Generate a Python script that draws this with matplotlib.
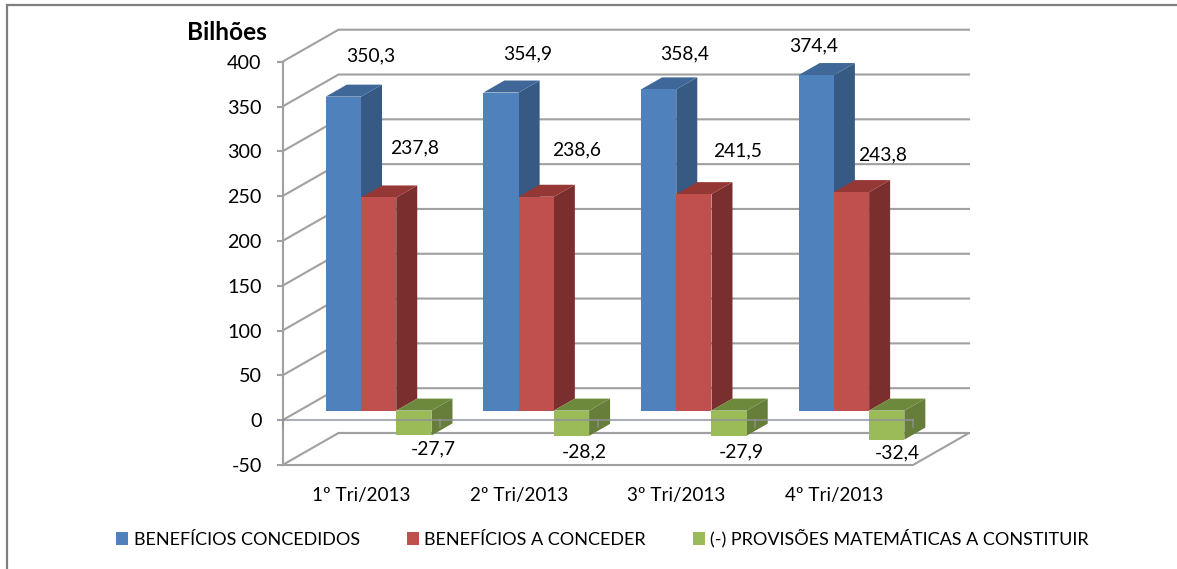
import matplotlib
matplotlib.use("Agg")
import matplotlib.pyplot as plt
from matplotlib.patches import Polygon, Patch
from matplotlib.lines import Line2D

plt.rcParams['font.family'] = ['Lato', 'DejaVu Sans']

categories = ['1º Tri/2013', '2º Tri/2013', '3º Tri/2013', '4º Tri/2013']
concedidos = [350.3, 354.9, 358.4, 374.4]
a_conceder = [237.8, 238.6, 241.5, 243.8]
provisoes = [-27.7, -28.2, -27.9, -32.4]
series_names = ['BENEFÍCIOS CONCEDIDOS', 'BENEFÍCIOS A CONCEDER',
                '(-) PROVISÕES MATEMÁTICAS A CONSTITUIR']
y_ticks = [-50, 0, 50, 100, 150, 200, 250, 300, 350, 400]
data_labels = [['350,3', '354,9', '358,4', '374,4'],
               ['237,8', '238,6', '241,5', '243,8'],
               ['-27,7', '-28,2', '-27,9', '-32,4']]
label_px = [[(371, 56), (528, 54), (685, 54), (814, 46)],
            [(415, 148), (577, 150), (737, 151), (883, 155)],
            [(433, 449), (584, 452), (741, 452), (897, 453)]]

W, H = 1177, 569
FRONT, SIDE, TOPC = 0, 1, 2
colors = [('#4F81BD', '#375A85', '#3F6797'),
          ('#C0504D', '#7A2F2E', '#953735'),
          ('#9BBB59', '#677D3A', '#6D8A3C')]
GRID = '#A0A0A0'

fig = plt.figure(figsize=(W / 100, H / 100), dpi=100)
L, R, T, B = 282.5, 913.0, 61.7, 465.0
ax = fig.add_axes([L / W, 1 - B / H, (R - L) / W, (B - T) / H])
ax.set_xlim(0, 4)
ax.set_ylim(-50, 400)
ax.patch.set_visible(False)

px_x = (R - L) / 4
px_y = (B - T) / 450
DX, DY = 56 / px_x, 32 / px_y
Z0, ZD = 0.30, 0.375
GAP, BW = 0.168, 0.2235


def depth_pt(x, y, z):
    return (x + z * DX, y + z * DY)


lw = 1.5
for t in y_ticks:
    ax.plot([0, DX, 4 + DX], [t, t + DY, t + DY], color=GRID, lw=lw, zorder=1,
            clip_on=False, solid_joinstyle='miter')
ax.plot([DX, 4 + DX, 4, 0], [-50 + DY, -50 + DY, -50, -50], color=GRID, lw=lw,
        zorder=1, clip_on=False)

for s, vals in enumerate([concedidos, a_conceder, provisoes]):
    f, sd, tp = colors[s]
    xs = [i + GAP + s * BW + Z0 * DX for i in range(4)]
    ax.bar(xs, vals, width=BW, bottom=Z0 * DY, align='edge', color=f,
           linewidth=0, zorder=3 + s, clip_on=False)
    for i, v in enumerate(vals):
        x0 = i + GAP + s * BW
        x1 = x0 + BW
        ax.add_patch(Polygon([depth_pt(x1, 0, Z0), depth_pt(x1, v, Z0),
                              depth_pt(x1, v, Z0 + ZD), depth_pt(x1, 0, Z0 + ZD)],
                             closed=True, fc=sd, lw=0, zorder=2.5 + s, clip_on=False))
        top_v = max(v, 0)
        ax.add_patch(Polygon([depth_pt(x0, top_v, Z0), depth_pt(x1, top_v, Z0),
                              depth_pt(x1, top_v, Z0 + ZD), depth_pt(x0, top_v, Z0 + ZD)],
                             closed=True, fc=tp, lw=0, zorder=2.5 + s, clip_on=False))

ax.plot([0, 4], [0, 0], color='#8E9299', lw=lw, alpha=0.75, zorder=8, clip_on=False)
tick_len = 7 / px_y
for i in range(5):
    ax.plot([i, i], [0, -tick_len], color='#8E9299', lw=1.2, alpha=0.8, zorder=8,
            clip_on=False)

for sp in ('top', 'right', 'bottom'):
    ax.spines[sp].set_visible(False)
ax.spines['left'].set_color(GRID)
ax.spines['left'].set_linewidth(lw)
ax.set_xticks([i + 0.5 for i in range(4)])
ax.set_xticklabels(categories, fontsize=13.6, color='black')
ax.tick_params(axis='x', length=0, pad=16)
ax.set_yticks(y_ticks)
ax.set_yticklabels([str(t) for t in y_ticks], fontsize=14.2, color='black')
ax.tick_params(axis='y', length=4, width=lw, color=GRID, pad=11)

for s in range(3):
    for i in range(4):
        px, py = label_px[s][i]
        fig.text(px / W, 1 - py / H, data_labels[s][i], ha='center', va='center',
                 fontsize=13.9, color='black', zorder=10)

fig.text(227 / W, 1 - 32 / H, 'Bilhões', ha='center', va='center', fontsize=17.6,
         fontweight='bold', color='black')

handles = [Patch(fc=colors[s][FRONT], lw=0) for s in range(3)]
fig.legend(handles, series_names, ncol=3, frameon=False, fontsize=13,
           loc='center', bbox_to_anchor=(602.5 / W, 1 - 538.5 / H),
           handlelength=0.67, handleheight=0.67, handletextpad=0.3,
           columnspacing=2.6, borderpad=0, labelcolor='black')

fig.add_artist(Line2D([7 / W, 7 / W, 1], [0, 1 - 5 / H, 1 - 5 / H], color='#7F7F7F',
                      lw=1.6, solid_joinstyle='miter'))

fig.savefig('out.png', dpi=100)
